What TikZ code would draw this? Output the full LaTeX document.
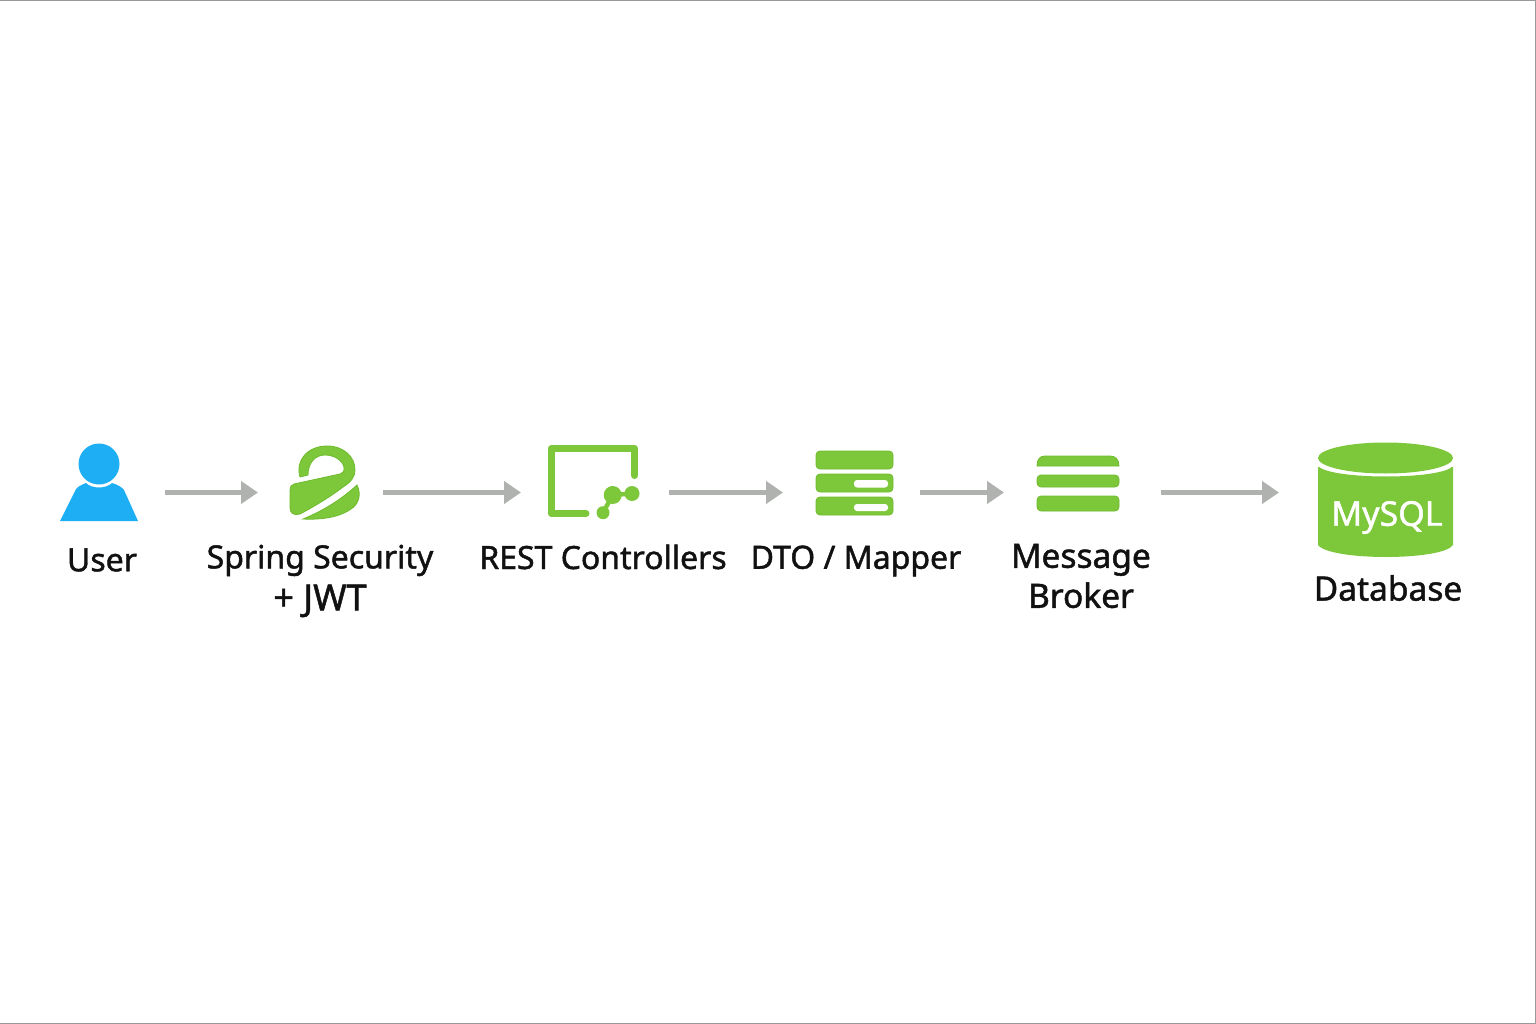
\documentclass[tikz,border=0pt]{standalone}
\usepackage{fontspec}
\usetikzlibrary{arrows.meta}
\setmainfont[FakeBold=1.4]{Noto Sans}
\definecolor{lime}{HTML}{7DC73A}
\definecolor{limeedge}{HTML}{6DBB2C}
\definecolor{sky}{HTML}{1DAEF3}
\definecolor{arrowgrey}{HTML}{B0B2B0}
\definecolor{labelink}{HTML}{111111}
\definecolor{frameline}{HTML}{999999}
\begin{document}
\begin{tikzpicture}[x=1pt,y=-1pt,
  iconbox/.style={inner sep=0pt,outer sep=0pt,minimum height=20pt},
  lbl/.style={font=\fontsize{32}{42}\selectfont, text=labelink, align=center, inner sep=0pt},
  lblwide/.style={lbl,font=\fontsize{33.5}{40}\selectfont},
  flow/.style={draw=arrowgrey,line width=4.2pt,-{Triangle[length=17pt,width=22pt,fill=arrowgrey]}},
  gfill/.style={fill=lime,draw=limeedge,line width=.8pt},
  gline/.style={draw=lime,line cap=round}]
\useasboundingbox (0,0) rectangle (1536,1024);
\fill[white] (0,0) rectangle (1536,1024);
\draw[frameline,line width=1pt] (0,0.5) -- (1536,0.5);
\draw[frameline,line width=1.5pt] (0,1023.3) -- (1536,1023.3);
\draw[frameline,line width=1.5pt] (1535.3,0) -- (1535.3,1024);
% user
\fill[sky] (99,464) circle (20.5);
\fill[sky] (60,521) -- (76,489) .. controls (78,486) and (84,484) .. (86,483) .. controls (92,489) and (106,489) .. (112,483) .. controls (116,484) and (122,487) .. (124,490) -- (138,521) -- cycle;
% spring security
\path[gfill] (290,490) .. controls (290,487) and (291,485) .. (294,484) -- (340,474) .. controls (344,472) and (345,470) .. (344,467)
 .. controls (342,460) and (334,455) .. (325,455) .. controls (315,455) and (308,463) .. (308,475) -- (300,477)
 .. controls (295,460) and (308,446) .. (327,446) .. controls (344,446) and (355,457) .. (355,470) .. controls (355,477) and (351,482) .. (343,487)
 .. controls (330,497) and (315,506) .. (300,514) .. controls (294,516) and (290,513) .. (290,508) -- cycle;
\path[gfill] (303,519) .. controls (325,510) and (343,498) .. (357,485) .. controls (362,495) and (358,505) .. (351,509) .. controls (340,517) and (322,520) .. (303,519) -- cycle;
% rest
\draw[gline,line width=7pt,line join=round] (586,513.5) -- (551,513.5) -- (551,448.5) -- (634.5,448.5) -- (634.5,475.5);
\draw[lime,line width=4.5pt] (603,512.7) -- (612.7,495) -- (632,493.5);
\fill[lime] (612.7,495) circle (9) (632,493.5) circle (7.5) (603,512.7) circle (6.5);
% dto
\foreach \y in {451,474,497}{
 \path[gfill,rounded corners=4pt] (816,\y) rectangle (893,\y+18);
}
\fill[white,rounded corners=3pt] (854,480) rectangle (888,487.5);
\fill[white,rounded corners=3pt] (854,504) rectangle (888,511);
% broker
\path[gfill] (1037,466) .. controls (1037,459) and (1040,456) .. (1045,456) -- (1110,456) .. controls (1115,456) and (1119,459) .. (1119,466) -- cycle;
\path[gfill,rounded corners=4pt] (1037,475) rectangle (1119,487);
\path[gfill,rounded corners=4pt] (1037,496) rectangle (1119,511);
% db
\fill[lime] (1318,466) .. controls (1330,480) and (1442,480) .. (1453,466) -- (1453,545) .. controls (1442,561) and (1330,561) .. (1318,545) -- cycle;
\fill[white] (1318,462) rectangle (1453,467);
\draw[white,line width=3pt] (1318,463) arc[start angle=180,end angle=360,x radius=67.5,y radius=14];
\fill[lime] (1385.5,458) ellipse[x radius=67.5,y radius=15.5];
\node[text=white,inner sep=0pt,font=\fontsize{34}{34}\selectfont] (mysql) at (1387,517.5) {MySQL};
% nodes for icons (anchors of connectors)
\node[iconbox,minimum width=125pt] (user) at (102.5,492.5) {};
\node[iconbox,minimum width=125pt] (sec) at (320.5,492.5) {};
\node[iconbox,minimum width=148pt] (rest) at (595,492.5) {};
\node[iconbox,minimum width=137pt] (dto) at (851.5,492.5) {};
\node[iconbox,minimum width=157pt] (broker) at (1082.5,492.5) {};
\node[iconbox,minimum width=191pt] (db) at (1374.5,492.5) {};
\draw[flow] (user) -- (sec);
\draw[flow] (sec) -- (rest);
\draw[flow] (rest) -- (dto);
\draw[flow] (dto) -- (broker);
\draw[flow] (broker) -- (db);
% labels
\node[lbl] (luser) at (102,560) {User};
\node[lbl] (lsec) at (320,581) {Spring Security\\{\fontsize{36}{42}\selectfont + JWT}};
\node[lbl] (lrest) at (603,557) {REST Controllers};
\node[lbl] (ldto) at (856,561) {DTO / Mapper};
\node[lblwide] (lbroker) at (1081,576) {Message\\Broker};
\node[lblwide] (ldb) at (1388,588) {Database};
\end{tikzpicture}
\end{document}
